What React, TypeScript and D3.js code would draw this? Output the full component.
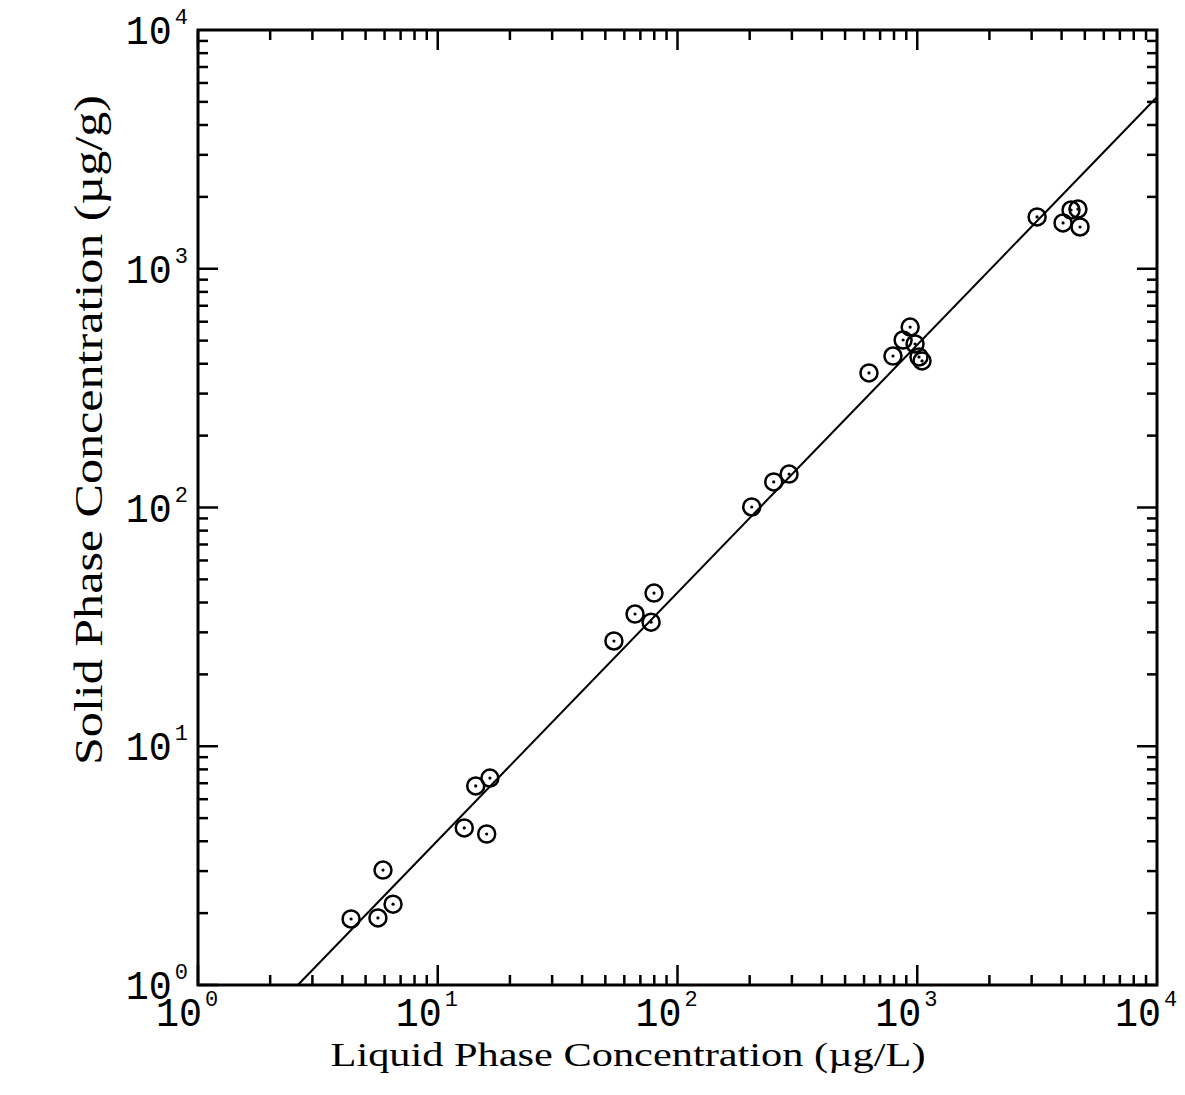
import React, { useEffect, useRef } from 'react'
import * as d3 from 'd3'

// measured points, liquid (ug/L) vs solid (ug/g)
const liquidConc = [4.35, 5.63, 5.91, 6.51, 12.9, 14.4, 16.0, 16.5, 54.3, 66.5, 77.6, 79.8, 204, 252, 292, 629, 792, 873, 934, 979, 1017, 1047, 3162, 4055, 4379, 4680, 4775]
const solidConc = [1.89, 1.91, 3.03, 2.18, 4.55, 6.82, 4.29, 7.36, 27.6, 35.8, 33.1, 43.8, 100.5, 128, 138, 366, 431, 503, 570, 484, 427, 411, 1648, 1555, 1762, 1778, 1496]

// fitted isotherm line end points
const fitLiquid = [2.61, 10000]
const fitSolid = [1, 5240]

const decades = [0, 1, 2, 3, 4]
const xTitle = 'Liquid Phase Concentration (µg/L)'
const yTitle = 'Solid Phase Concentration (µg/g)'

const W = 1185
const H = 1095
const left = 198, right = 1157, top = 30, bottom = 985

function drawChart(node: SVGSVGElement) {
    let svg = d3.select(node)
    svg.selectAll('*').remove()

    let x = d3.scaleLog().domain([1, 1e4]).range([left, right])
    let y = d3.scaleLog().domain([1, 1e4]).range([bottom, top])

    let tickVals: { v: number, major: boolean }[] = []
    decades.forEach(d => {
        if (d === 4) return
        for (let k = 1; k <= 9; k++) tickVals.push({ v: k * Math.pow(10, d), major: k === 1 })
    })

    let ticks = svg.append('g').attr('stroke', '#000').attr('stroke-width', 2.5)
    tickVals.forEach(t => {
        let len = t.major ? 20 : 10
        let px = x(t.v), py = y(t.v)
        ticks.append('line').attr('x1', px).attr('x2', px).attr('y1', bottom).attr('y2', bottom - len)
        ticks.append('line').attr('x1', px).attr('x2', px).attr('y1', top).attr('y2', top + len)
        ticks.append('line').attr('y1', py).attr('y2', py).attr('x1', left).attr('x2', left + len)
        ticks.append('line').attr('y1', py).attr('y2', py).attr('x1', right).attr('x2', right - len)
    })

    // frame
    svg.append('rect')
        .attr('x', left).attr('y', top)
        .attr('width', right - left).attr('height', bottom - top)
        .attr('fill', 'none').attr('stroke', '#000').attr('stroke-width', 3)

    // fit line
    let line = d3.line<number>()
        .x((d, i) => x(fitLiquid[i]))
        .y(d => y(d))
    svg.append('path')
        .attr('d', line(fitSolid))
        .attr('fill', 'none').attr('stroke', '#000').attr('stroke-width', 2)

    // points
    let pts = svg.append('g')
    liquidConc.forEach((c, i) => {
        let g = pts.append('g').attr('transform', `translate(${x(c)},${y(solidConc[i])})`)
        g.append('circle').attr('r', 8.5).attr('fill', 'none').attr('stroke', '#000').attr('stroke-width', 2.5)
        g.append('circle').attr('r', 1.6).attr('fill', '#000')
    })

    // tick labels
    let font = '"Liberation Mono", monospace'
    decades.forEach(d => {
        let v = Math.pow(10, d)
        let yl = svg.append('text')
            .attr('x', left - 10).attr('y', y(v) + 14)
            .attr('text-anchor', 'end')
            .attr('font-family', font).attr('font-size', 40)
        yl.append('tspan').text('10').attr('textLength', 46).attr('lengthAdjust', 'spacingAndGlyphs')
        yl.append('tspan').text(String(d)).attr('font-size', 22).attr('dy', -20).attr('dx', 3)

        let xl = svg.append('text')
            .attr('x', x(v) - 42).attr('y', bottom + 41)
            .attr('font-family', font).attr('font-size', 40)
        xl.append('tspan').text('10').attr('textLength', 46).attr('lengthAdjust', 'spacingAndGlyphs')
        xl.append('tspan').text(String(d)).attr('font-size', 22).attr('dy', -20).attr('dx', 3)
    })

    // axis titles
    svg.append('text')
        .attr('x', 628).attr('y', 1066)
        .attr('text-anchor', 'middle')
        .attr('font-family', '"Liberation Serif", serif').attr('font-size', 33)
        .attr('textLength', 595).attr('lengthAdjust', 'spacingAndGlyphs')
        .text(xTitle)

    svg.append('text')
        .attr('transform', `translate(102,${430}) rotate(-90)`)
        .attr('text-anchor', 'middle')
        .attr('font-family', '"Liberation Serif", serif').attr('font-size', 40)
        .attr('textLength', 670).attr('lengthAdjust', 'spacingAndGlyphs')
        .text(yTitle)
}

export default function App() {
    const ref = useRef<SVGSVGElement>(null)

    useEffect(() => {
        if (ref.current) drawChart(ref.current)
    }, [])

    return (
        <svg ref={ref} width={W} height={H}
            style={{ position: 'absolute', left: 0, top: 0, background: '#fff' }} />
    )
}
